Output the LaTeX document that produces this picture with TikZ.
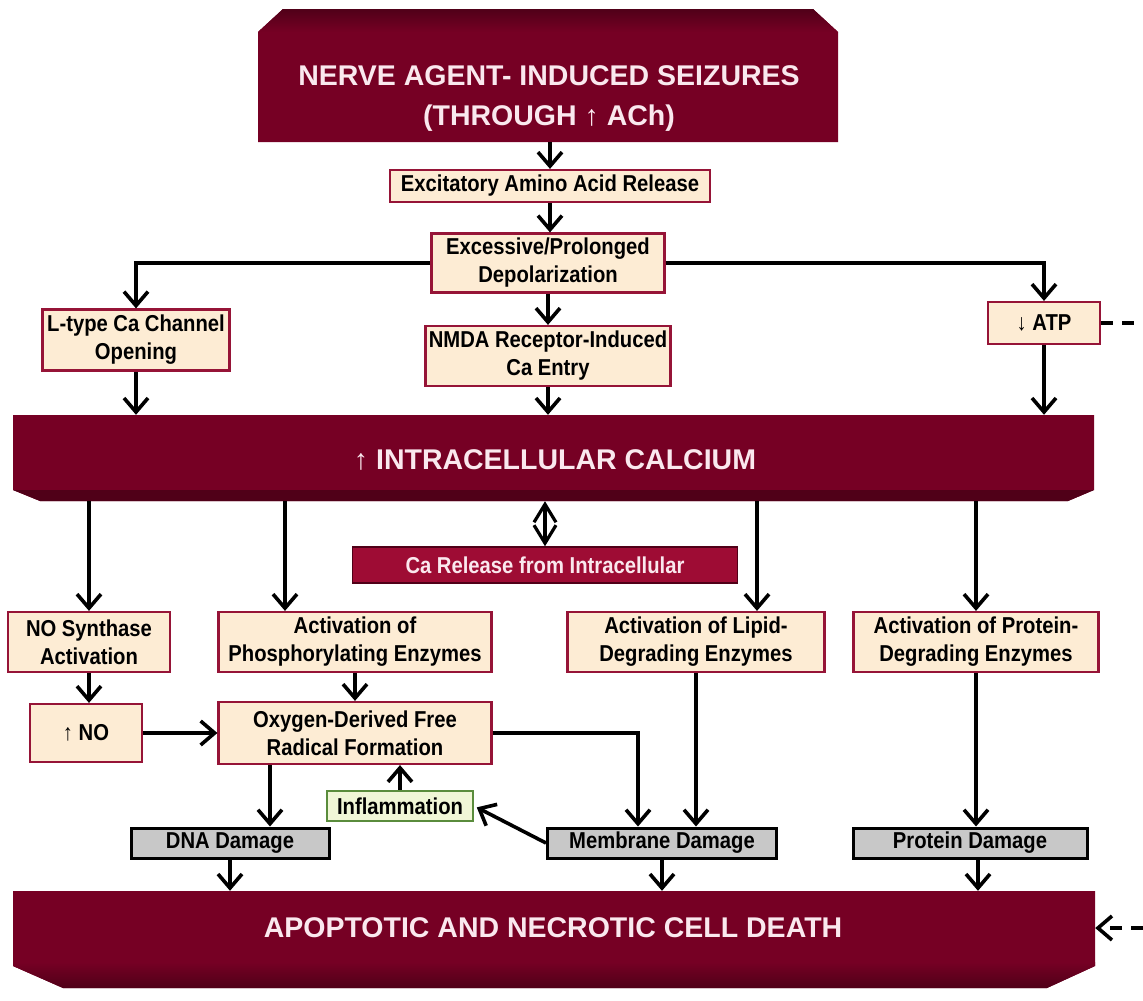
\documentclass[tikz,border=0pt]{standalone}
\usepackage{fontspec}
\setmainfont{Liberation Sans}[FakeStretch=0.88]
\newfontfamily\headfont{Liberation Sans}
\usetikzlibrary{arrows.meta}
\definecolor{burg}{RGB}{118,0,36}
\definecolor{burgdark}{RGB}{80,0,24}
\definecolor{carmine}{RGB}{158,12,52}
\definecolor{peach}{RGB}{253,236,212}
\definecolor{boxline}{RGB}{150,20,55}
\definecolor{dmg}{RGB}{200,200,200}
\definecolor{inflfill}{RGB}{240,246,214}
\definecolor{inflline}{RGB}{90,140,60}
\definecolor{pinkw}{RGB}{250,232,238}

\begin{document}
\begin{tikzpicture}[x=1pt,y=-1pt,line cap=butt,line join=miter,
    every node/.style={font=\bfseries\fontsize{23}{28}\selectfont,align=center,inner sep=0pt},
    lbox/.style={draw=boxline,fill=peach,line width=2.2pt},
    gbox/.style={draw=black,fill=dmg,line width=3pt},
    ibox/.style={draw=inflline,fill=inflfill,line width=2.2pt},
    bigtxt/.style={text=pinkw,font=\headfont\bfseries\fontsize{28.5}{40}\selectfont},
    arr/.style={-{Straight Barb[length=14pt,width=24pt]},line width=3.6pt},
    dbl/.style={{Straight Barb[length=18pt,width=22pt]}-{Straight Barb[length=18pt,width=22pt]},line width=3.2pt},
    dsh/.style={line width=3.6pt,dash pattern=on 12pt off 9pt}]
% ---- 画布：像素坐标，原点=左上角，y 向下 ----
\path[use as bounding box] (0,0) rectangle (1143,1001);
\coordinate (edgeR) at (1143,0);
% ---- 大框（斜角立体块）----
\fill[burg] (258,32)--(283,9)--(813,9)--(838,32)--(838,142)--(258,142)--cycle;
\shade[top color=burgdark,bottom color=burg] (258,32)--(283,9)--(813,9)--(838,32)--cycle;
\fill[burg] (13,415)--(1094,415)--(1094,490)--(1068,501)--(40,501)--(13,490)--cycle;
\fill[burgdark] (13,490)--(40,501)--(1068,501)--(1094,490)--cycle;
\fill[burg] (13,891)--(1095,891)--(1095,966)--(1047,988)--(63,988)--(13,966)--cycle;
\shade[top color=burg,bottom color=burgdark] (13,966)--(13,962)--(1095,962)--(1095,966)--(1047,988)--(63,988)--cycle;
\node[minimum width=580pt,minimum height=133pt] (seiz)  at (548,75.5) {};
\node[minimum width=1081pt,minimum height=86pt] (cal)   at (553.5,458) {};
\node[minimum width=1082pt,minimum height=97pt] (death) at (554,939.5) {};
\node[bigtxt] (seizT)  at (549,99)  {NERVE AGENT- INDUCED SEIZURES\\(THROUGH ↑ ACh)};
\node[bigtxt] (calT)   at (555,460) {↑ INTRACELLULAR CALCIUM};
\node[bigtxt] (deathT) at (553,928) {APOPTOTIC AND NECROTIC CELL DEATH};
% ---- 上部小框 ----
\node[lbox,minimum width=320pt,minimum height=32pt] (exc)   at (550,186) {Excitatory Amino Acid Release};
\node[lbox,minimum width=233pt,minimum height=59pt] (dep)   at (548,263) {Excessive/Prolonged\\Depolarization};
\node[lbox,minimum width=187pt,minimum height=61pt] (ltype) at (136,340) {L-type Ca Channel\\Opening};
\node[lbox,minimum width=245pt,minimum height=60pt] (nmda)  at (548,356) {NMDA Receptor-Induced\\Ca Entry};
\node[lbox,minimum width=112pt,minimum height=42pt] (atp)   at (1044,323) {↓ ATP};
% ---- 中部 ----
\node[fill=carmine,draw=burgdark,line width=1.5pt,text=pinkw,minimum width=385pt,minimum height=36pt] (carel) at (545,565) {Ca Release from Intracellular};
\node[lbox,minimum width=162pt,minimum height=60pt] (noS)   at (89,642)  {NO Synthase\\Activation};
\node[lbox,minimum width=273pt,minimum height=60pt] (phos)  at (355,642) {Activation of\\Phosphorylating Enzymes};
\node[lbox,minimum width=257pt,minimum height=60pt] (lipid) at (696,642) {Activation of Lipid-\\Degrading Enzymes};
\node[lbox,minimum width=245pt,minimum height=60pt] (prot)  at (976,642) {Activation of Protein-\\Degrading Enzymes};
\node[lbox,minimum width=112pt,minimum height=58pt] (no)    at (86,733)  {↑ NO};
\node[lbox,minimum width=273pt,minimum height=62pt] (oxy)   at (355,733) {Oxygen-Derived Free\\Radical Formation};
\node[ibox,minimum width=146pt,minimum height=30pt] (infl)  at (400,806) {Inflammation};
% ---- 损伤框 ----
\node[gbox,minimum width=198pt,minimum height=30pt] (dna)   at (230,843) {DNA Damage};
\node[gbox,minimum width=229pt,minimum height=30pt] (memb)  at (662,843) {Membrane Damage};
\node[gbox,minimum width=234pt,minimum height=30pt] (protd) at (970,843) {Protein Damage};
% ---- 连线 ----
\coordinate (phosIn) at (285,0);
\coordinate (lipIn)  at (757,0);
\coordinate (dnaIn)  at (270,0);
\coordinate (membIn) at (638,0);
\coordinate (pdOut)  at (978,0);
\draw[arr] (seiz.south -| exc) -- (exc.north);
\draw[arr] (exc.south) -- (exc.south |- dep.north);
\draw[arr] (dep.west) -| (ltype.north);
\draw[arr] (dep.east) -| (atp.north);
\draw[arr] (dep.south) -- (nmda.north);
\draw[arr] (ltype.south) -- (ltype.south |- cal.north);
\draw[arr] (nmda.south) -- (nmda.south |- cal.north);
\draw[arr] (atp.south) -- (atp.south |- cal.north);
\draw[dsh] (atp.east) -- (atp.east -| edgeR);
\draw[arr] (cal.south -| noS) -- (noS.north);
\draw[arr] (cal.south -| phosIn) -- (phos.north -| phosIn);
\draw[dbl] (cal.south -| carel) -- (carel.north);
\draw[arr] (cal.south -| lipIn) -- (lipid.north -| lipIn);
\draw[arr] (cal.south -| prot) -- (prot.north);
\draw[arr] (noS.south) -- (noS.south |- no.north);
\draw[arr] (phos.south) -- (oxy.north);
\draw[arr] (no.east) -- (oxy.west);
\draw[arr] (oxy.south -| dnaIn) -- (dna.north -| dnaIn);
\draw[arr] (oxy.east) -| (memb.north -| membIn);
\draw[arr] (lipid.south) -- (lipid.south |- memb.north);
\draw[arr] (prot.south) -- (prot.south |- protd.north);
\draw[arr] (infl.north) -- (infl.north |- oxy.south);
\draw[arr,shorten >=3pt] (memb.west) -- (infl.east);
\draw[arr] (dna.south) -- (dna.south |- death.north);
\draw[arr] (memb.south) -- (memb.south |- death.north);
\draw[arr] (protd.south -| pdOut) -- (death.north -| pdOut);
\draw[dsh,arr] (edgeR |- deathT) -- (death.east |- deathT);
\end{tikzpicture}
\end{document}
